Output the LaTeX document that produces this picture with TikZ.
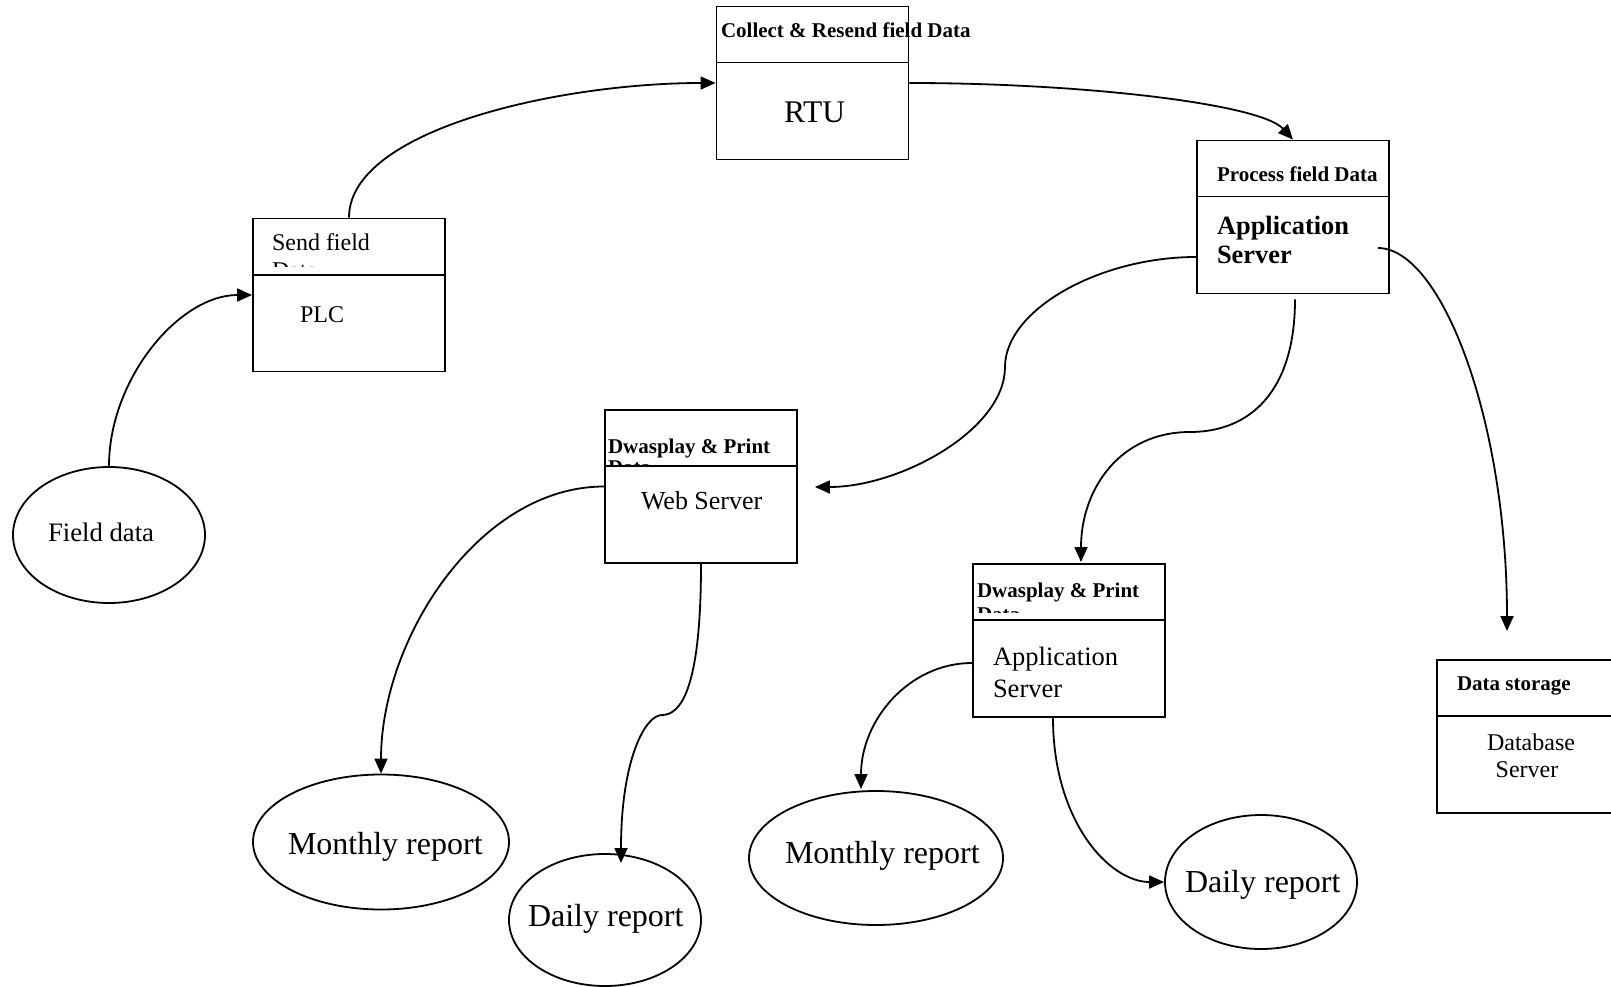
\documentclass[tikz,border=0pt]{standalone}
\usepackage{fontspec}
\setmainfont{Liberation Serif}
\usetikzlibrary{arrows.meta,calc,shapes.geometric}
\begin{document}
\begin{tikzpicture}[x=1pt,y=-1pt,
  box/.style={draw,line width=1.9pt,rectangle,inner sep=0pt,minimum width=192pt,minimum height=153pt},
  bubble/.style={draw,line width=1.8pt,ellipse,inner sep=0pt},
  divider/.style={line width=1.9pt},
  flow/.style={line width=1.8pt,-{Triangle[length=15pt,width=13pt]}},
  plain/.style={line width=1.8pt},
  lbl/.style={anchor=base west,inner sep=0pt,outer sep=0pt},
  hdr/.style={lbl,font=\bfseries\fontsize{21}{24}\selectfont},
]
\useasboundingbox (0,0) rectangle (1611,987);
\clip (0,0) rectangle (1611,987);

% ---------- process boxes ----------
\node[box] (rtu)  at (812.5,83)   {};
\node[box] (plc)  at (349,295)    {};
\node[box] (proc) at (1293,217)   {};
\node[box] (web)  at (701,486.5)  {};
\node[box] (app2) at (1069,640.5) {};
\node[box] (db)   at (1533,736.5) {};
\foreach \b in {rtu,plc,proc,web,app2,db}
  \draw[divider] ($(\b.north west)+(0,57)$) -- ($(\b.north east)+(0,57)$);

% ---------- external entities / reports ----------
\node[bubble,minimum width=192pt,minimum height=136pt] (field) at (109,535) {};
\node[bubble,minimum width=256pt,minimum height=135pt] (mon1)  at (381,842) {};
\node[bubble,minimum width=192pt,minimum height=132pt] (dai1)  at (605,920) {};
\node[bubble,minimum width=254pt,minimum height=134pt] (mon2)  at (876,858) {};
\node[bubble,minimum width=192pt,minimum height=134pt] (dai2)  at (1261,882) {};

% ---------- box texts ----------
\node[hdr] (h-rtu) at (721,38) {Collect \& Resend field Data};
\node[lbl,font=\fontsize{31.5}{36}\selectfont] (t-rtu) at (784,123) {RTU};

\begin{scope}
  \clip ($(plc.north west)+(2,2)$) rectangle ($(plc.north east)+(-2,49)$);
  \node[lbl,font=\fontsize{24}{28}\selectfont] (h-plc) at (272,250) {Send field};
  \node[lbl,font=\fontsize{24}{28}\selectfont] (h-plc2) at (272,278) {Data};
\end{scope}
\node[lbl,font=\fontsize{24}{28}\selectfont] (t-plc) at (300,322) {PLC};

\node[hdr] (h-proc) at (1217,182) {Process field Data};
\node[lbl,font=\bfseries\fontsize{26.4}{30}\selectfont] (t-proc) at (1217,234) {Application};
\node[lbl,font=\bfseries\fontsize{26.4}{30}\selectfont] (t-proc2) at (1217,263) {Server};

\begin{scope}
  \clip ($(web.north west)+(2,2)$) rectangle ($(web.north east)+(-2,57)$);
  \node[hdr] (h-web) at (608,453) {Dwasplay \& Print};
  \node[hdr] (h-web2) at (608,474.5) {Data};
\end{scope}
\node[lbl,font=\fontsize{26}{30}\selectfont] (t-web) at (641,509) {Web Server};

\begin{scope}
  \clip ($(app2.north west)+(2,2)$) rectangle ($(app2.north east)+(-2,49)$);
  \node[hdr] (h-app2) at (977,597) {Dwasplay \& Print};
  \node[hdr] (h-app22) at (977,621) {Data};
\end{scope}
\node[lbl,font=\fontsize{26.5}{30}\selectfont] (t-app2) at (993,665) {Application};
\node[lbl,font=\fontsize{26.5}{30}\selectfont] (t-app22) at (993,697) {Server};

\node[hdr] (h-db) at (1457,690) {Data storage};
\node[font=\fontsize{24}{28}\selectfont,anchor=base,inner sep=0pt] (t-db) at (1531,750) {Database};
\node[font=\fontsize{24}{28}\selectfont,anchor=base,inner sep=0pt] (t-db2) at (1527,777) {Server};

% ---------- bubble texts ----------
\node[lbl,font=\fontsize{26.7}{30}\selectfont] (t-field) at (48,541) {Field data};
\node[lbl,font=\fontsize{32}{36}\selectfont] (t-mon1) at (288,854) {Monthly report};
\node[lbl,font=\fontsize{32}{36}\selectfont] (t-dai1) at (528,926) {Daily report};
\node[lbl,font=\fontsize{32}{36}\selectfont] (t-mon2) at (785,863) {Monthly report};
\node[lbl,font=\fontsize{32}{36}\selectfont] (t-dai2) at (1185,892) {Daily report};

% ---------- connector ends and bends ----------
\coordinate (procL)  at ($(proc.west)+(0,40)$);
\coordinate (bendW)  at (1005,367);
\coordinate (webR)   at ($(web.east)+(17,0.5)$);
\coordinate (procB)  at ($(proc.south)+(2,5)$);
\coordinate (bendA)  at (1190,432);
\coordinate (app2T)  at ($(app2.north)+(12,-1)$);
\coordinate (procR)  at ($(proc.east)+(-12,31)$);
\coordinate (dbT)    at ($(db.north)+(-26,-28)$);
\coordinate (bendD)  at (662,715);
\coordinate (dai1T)  at (621,863);
\coordinate (app2L)  at ($(app2.west)+(0,22.5)$);
\coordinate (mon2T)  at (861,789);
\coordinate (app2B)  at ($(app2.south)+(-16,0)$);

% ---------- data flows ----------
\draw[flow] (field.north) .. controls +(0,-87) and +(-73,0) .. (plc.west);
\draw[flow] (plc.north) .. controls +(0,-88) and +(-156,0) .. (rtu.west);
\draw[flow] (rtu.east) .. controls +(171,0) and +(-33,-36) .. (proc.north);

\draw[plain] (procL) .. controls +(-97,0) and +(0,-57) .. (bendW);
\draw[flow] (bendW) .. controls +(0,63) and +(85,0) .. (webR);

\draw[plain] (procB) .. controls +(0,92) and +(60,0) .. (bendA);
\draw[flow] (bendA) .. controls +(-70,0) and +(0,-73) .. (app2T);

\draw[flow] (procR) .. controls +(63,0) and +(0,-212) .. (dbT);

\draw[flow] (web.west) .. controls +(-125,0) and +(0,-135) .. (mon1.north);
\draw[plain] (web.south) .. controls +(0,127) and +(18,0) .. (bendD);
\draw[flow] (bendD) .. controls +(-17,0) and +(0,-103) .. (dai1T);

\draw[flow] (app2L) .. controls +(-63,0) and +(0,-69) .. (mon2T);
\draw[flow] (app2B) .. controls +(0,103) and +(-55,0) .. (dai2.west);
\end{tikzpicture}
\end{document}
